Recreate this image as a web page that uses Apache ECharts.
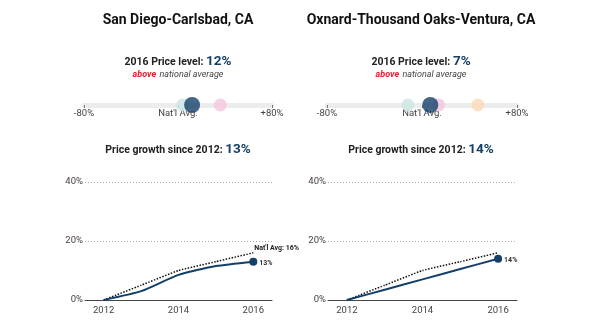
<!DOCTYPE html>
<html>
<head>
<meta charset="utf-8">
<script src="https://cdn.jsdelivr.net/npm/echarts@6/dist/echarts.min.js"></script>
<style>
  html, body { margin: 0; padding: 0; background: #fff; }
  #chart { width: 600px; height: 331px; }
</style>
</head>
<body>
<div id="chart"></div>
<script>
// Metro areas shown side by side
const metros = ['San Diego-Carlsbad, CA', 'Oxnard-Thousand Oaks-Ventura, CA'];
// 2016 price level relative to national average (%)
const priceLevel = [12, 7];
// Neighbouring metros on the price-level strip (% vs national average)
const peerLevelsSD = [4, 36];
const peerColorsSD = ['#cfe6e6', '#f5c9de'];
const peerLevelsOx = [-12, 14, 47];
const peerColorsOx = ['#cfe6e6', '#f5c9de', '#fbdcbc'];
// Cumulative price growth since 2012 (%)
const years = ['2012', '2013', '2014', '2015', '2016'];
const growthSD = [0, 3, 8.5, 11.5, 13];
const growthOx = [0, 3.5, 7, 10.5, 14];
const growthNat = [0, 5, 10, 13, 16];
// Tick labels
const stripTicks = { '-80': '-80%', '0': "Nat'l Avg.", '80': '+80%' };

const NAVY = '#143f69';
const FONT = 'Roboto';

const panels = [
  { name: metros[0], level: priceLevel[0], peers: peerLevelsSD, peerColors: peerColorsSD, growth: growthSD, cx: 178, left: 84, right: 328 },
  { name: metros[1], level: priceLevel[1], peers: peerLevelsOx, peerColors: peerColorsOx, growth: growthOx, cx: 421, left: 327, right: 83 }
];

const grid = [], xAxis = [], yAxis = [], series = [], graphic = [];

panels.forEach((p, i) => {
  const g = grid.length;
  // price-level strip
  grid.push({ left: p.left, right: p.right, top: 105, height: 0 });
  xAxis.push({
    type: 'value', gridIndex: g, min: -80, max: 80, interval: 80,
    axisLine: { show: true, lineStyle: { color: '#ececec', width: 5 } },
    axisTick: { show: true, length: 3, inside: false, lineStyle: { color: '#777', width: 1 } },
    splitLine: { show: false },
    axisLabel: { margin: 4, color: '#444', fontFamily: FONT, fontSize: 9.5, formatter: v => stripTicks[String(v)] }
  });
  yAxis.push({ type: 'value', gridIndex: g, min: -1, max: 1, show: false });
  series.push({
    type: 'scatter', xAxisIndex: g, yAxisIndex: g, z: 2,
    data: p.peers.map((v, k) => ({ value: [v, 0], itemStyle: { color: p.peerColors[k], opacity: 0.85 } })),
    symbolSize: 13, silent: true
  });
  series.push({
    type: 'scatter', xAxisIndex: g, yAxisIndex: g, z: 3,
    data: [[p.level, 0]], symbolSize: 16, itemStyle: { color: NAVY }, silent: true
  });

  // growth line chart
  const h = grid.length;
  grid.push({ left: p.left + 1, right: p.right, top: 182, bottom: 31 });
  xAxis.push({
    type: 'category', gridIndex: h, data: years, boundaryGap: true,
    axisLine: { lineStyle: { color: '#444', width: 1 } },
    axisTick: { alignWithLabel: true, interval: 1, length: 3, lineStyle: { color: '#444' } },
    axisLabel: { interval: 1, color: '#444', fontFamily: FONT, fontSize: 9.5, margin: 6 }
  });
  yAxis.push({
    type: 'value', gridIndex: h, min: 0, max: 40, interval: 20,
    axisLine: { show: false }, axisTick: { show: false },
    splitLine: { lineStyle: { color: '#aaa', type: [1, 2], width: 1 } },
    axisLabel: { color: '#4a4040', fontFamily: FONT, fontSize: 9.5, margin: 2, formatter: v => v + '%' }
  });
  series.push({
    type: 'line', xAxisIndex: h, yAxisIndex: h, data: growthNat, smooth: 0.1,
    symbol: 'none', lineStyle: { color: '#111', width: 1.5, type: [1.5, 1.5] },
    z: 2,
    endLabel: i === 0 ? {
      show: true, formatter: p2 => "Nat'l Avg: " + p2.value + '%',
      fontFamily: FONT, fontSize: 7, fontWeight: 'bold', color: '#222', distance: 1, offset: [0, -5]
    } : { show: false }
  });
  series.push({
    type: 'line', xAxisIndex: h, yAxisIndex: h, data: p.growth, smooth: 0.2,
    symbol: 'circle', showAllSymbol: true,
    symbolSize: (v, prm) => prm.dataIndex === p.growth.length - 1 ? 8 : 0,
    itemStyle: { color: NAVY }, lineStyle: { color: NAVY, width: 2 }, z: 3,
    endLabel: {
      show: true, formatter: p2 => p2.value + '%',
      fontFamily: FONT, fontSize: 7, fontWeight: 'bold', color: '#333', distance: 6, offset: [0, 2]
    }
  });

  // text blocks
  const last = p.growth[p.growth.length - 1];
  graphic.push({
    type: 'text', x: p.cx, y: 20,
    style: { text: p.name, font: 'bold 14px Roboto', fill: '#111', align: 'center', verticalAlign: 'middle' }
  });
  graphic.push({
    type: 'text', x: p.cx, y: 62,
    style: {
      text: '{a|2016 Price level: }{b|' + p.level + '%}', align: 'center', verticalAlign: 'middle',
      rich: {
        a: { font: 'bold 10.5px Roboto', fill: '#222' },
        b: { font: 'bold 13.5px Roboto', fill: NAVY }
      }
    }
  });
  graphic.push({
    type: 'text', x: p.cx, y: 75,
    style: {
      text: '{a|above} {b|national average}', align: 'center', verticalAlign: 'middle',
      rich: {
        a: { font: 'italic bold 9px Roboto', fill: '#e0202a' },
        b: { font: 'italic 9px Roboto', fill: '#444' }
      }
    }
  });
  graphic.push({
    type: 'text', x: p.cx, y: 150,
    style: {
      text: '{a|Price growth since 2012: }{b|' + last + '%}', align: 'center', verticalAlign: 'middle',
      rich: {
        a: { font: 'bold 10.5px Roboto', fill: '#222' },
        b: { font: 'bold 13.5px Roboto', fill: NAVY }
      }
    }
  });
});

const chart = echarts.init(document.getElementById('chart'), null, { renderer: 'canvas' });
chart.setOption({
  animation: false,
  backgroundColor: '#fff',
  textStyle: { fontFamily: FONT },
  grid, xAxis, yAxis, series, graphic
});
</script>
</body>
</html>
